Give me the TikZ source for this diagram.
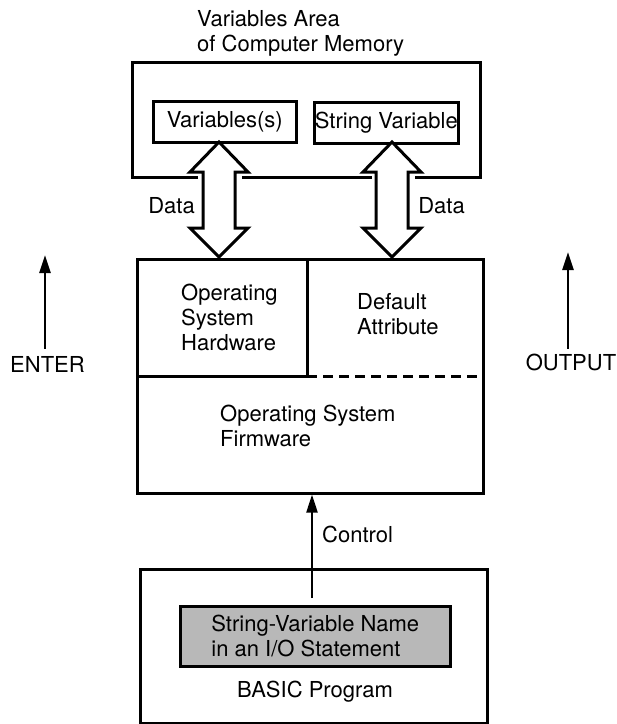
\documentclass[tikz,border=0pt]{standalone}
\usepackage{fontspec}
\setmainfont{TeX Gyre Heros}
\usetikzlibrary{arrows.meta}

\newcommand{\dataarrow}[1]{%
  \draw[bigarrow] (#1) -- ++(29,30) -- ++(-13,0) -- ++(0,56) -- ++(13,0)
    -- ++(-29,29) -- ++(-29,-29) -- ++(13,0) -- ++(0,-56) -- ++(-13,0) -- cycle;}

\begin{document}
\begin{tikzpicture}[%
      x=1pt, y=-1pt,
      font=\fontsize{22}{25}\selectfont,
      txt/.style={inner sep=0pt},
      rim/.style={line width=3pt},
      box/.style={draw, line width=2.6pt, inner sep=0pt},
      bigarrow/.style={line width=3pt, fill=white, line join=miter},
      sig/.style={line width=2.4pt, -{Triangle[length=18pt,width=11pt]}},
      ]
      \useasboundingbox (0,0) rectangle (617,724);

      % memory area
      \node[txt, align=left, anchor=north west] (title) at (197,10) {Variables Area\\of Computer Memory};
      \draw[rim] (198,177) -- (132,177) -- (132,62) -- (480,62) -- (480,177) -- (415,177);
      \draw[rim] (242,177) -- (372,177);
      \node[box, minimum width=143pt, minimum height=41pt, anchor=north west] (vars) at (152,100) {Variables(s)};
      \node[box, minimum width=144pt, minimum height=41pt, anchor=north west] (strv) at (313,101) {String Variable};

      \coordinate (ltip) at (219,142);
      \coordinate (rtip) at (392,142);
      \dataarrow{ltip}
      \dataarrow{rtip}
      \node[txt, anchor=base] (ldata) at (171.5,213.5) {Data};
      \node[txt, anchor=base] (rdata) at (441.5,213.5) {Data};

      % operating system
      \node[box, minimum width=346pt, minimum height=234pt, anchor=north west] (os) at (136,258) {};
      \draw[rim] (307,258) -- (307,376) (136,376) -- (307,376);
      \draw[rim, dash pattern=on 10pt off 6pt] (307,376) -- (482,376);
      \node[txt, align=left, anchor=west] (hw) at (181,317) {Operating\\System\\Hardware};
      \node[txt, align=left, anchor=west] (attr) at (357,314.5) {Default\\Attribute};
      \node[txt, align=left, anchor=west] (fw) at (220,425.5) {Operating System\\Firmware};

      % control
      \coordinate (ctl) at (312,598);
      \draw[sig] (ctl) -- (ctl |- os.south);
      \node[txt, anchor=base west] (ctllbl) at (322,542.5) {Control};

      % BASIC program
      \node[box, minimum width=347pt, minimum height=154pt, anchor=north west] (prog) at (139,568) {};
      \node[box, fill=black!28, minimum width=270pt, minimum height=60pt, align=left, anchor=north west] (stmt) at (179,605) {String-Variable Name\\in an I/O Statement};
      \node[txt, anchor=base] (basic) at (315,697.5) {BASIC Program};

      % enter / output
      \node[txt, anchor=base] (enter) at (47.5,372) {ENTER};
      \node[txt, anchor=base] (output) at (571,370.5) {OUTPUT};
      \coordinate (entertop) at (45,255);
      \coordinate (outputtop) at (568,252);
      \draw[sig, shorten <=7pt] (enter.north -| entertop) -- (entertop);
      \draw[sig, shorten <=5pt] (output.north -| outputtop) -- (outputtop);
\end{tikzpicture}
\end{document}
